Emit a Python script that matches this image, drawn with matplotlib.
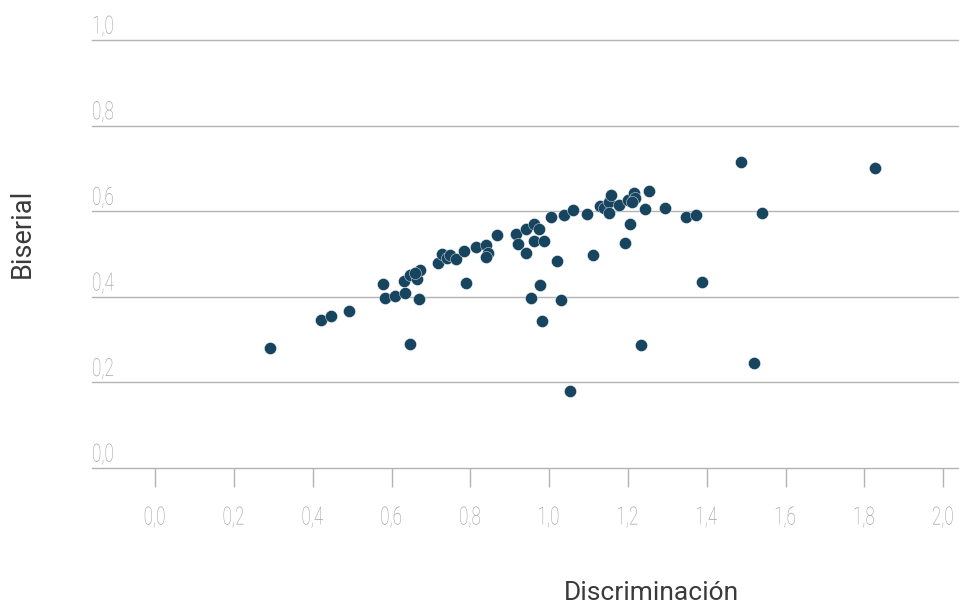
import matplotlib.pyplot as plt
from matplotlib.transforms import offset_copy, Affine2D
from matplotlib.patheffects import AbstractPathEffect

# Discriminación (x) vs Biserial (y), one point per item
discriminacion = [0.292, 0.421, 0.446, 0.491, 0.579, 0.584, 0.608, 0.635, 0.631, 0.647,
                  0.664, 0.673, 0.660, 0.669, 0.648, 0.719, 0.728, 0.740, 0.749, 0.764,
                  0.783, 0.789, 0.814, 0.839, 0.845, 0.839, 0.867, 0.916, 0.920, 0.942,
                  0.941, 0.962, 0.974, 0.962, 0.987, 1.020, 0.977, 0.954, 1.031, 0.983,
                  1.052, 1.004, 1.038, 1.060, 1.095, 1.112, 1.129, 1.140, 1.151, 1.157,
                  1.151, 1.178, 1.192, 1.206, 1.201, 1.216, 1.218, 1.211, 1.243, 1.254,
                  1.295, 1.346, 1.372, 1.387, 1.234, 1.487, 1.826, 1.541, 1.519]
biserial = [0.280, 0.346, 0.356, 0.367, 0.430, 0.397, 0.403, 0.410, 0.438, 0.451,
            0.441, 0.463, 0.456, 0.394, 0.290, 0.478, 0.499, 0.490, 0.498, 0.488,
            0.508, 0.432, 0.516, 0.522, 0.502, 0.494, 0.544, 0.546, 0.523, 0.558,
            0.502, 0.569, 0.559, 0.530, 0.530, 0.483, 0.428, 0.398, 0.393, 0.344,
            0.181, 0.586, 0.591, 0.603, 0.594, 0.498, 0.613, 0.607, 0.622, 0.639,
            0.595, 0.614, 0.525, 0.570, 0.626, 0.643, 0.631, 0.621, 0.604, 0.648,
            0.607, 0.586, 0.591, 0.434, 0.287, 0.716, 0.701, 0.595, 0.245]

x_ticks = [0.0, 0.2, 0.4, 0.6, 0.8, 1.0, 1.2, 1.4, 1.6, 1.8, 2.0]
y_ticks = [0.0, 0.2, 0.4, 0.6, 0.8, 1.0]


# no condensed font installed, so squeeze the glyph outlines horizontally
class Condensed(AbstractPathEffect):
    def __init__(self, k=0.7, align=0.0):
        super().__init__()
        self.k = k
        self.align = align

    def draw_path(self, renderer, gc, tpath, affine, rgbFace=None):
        w = tpath.get_extents().width
        pre = Affine2D().scale(self.k, 1).translate((1 - self.k) * w * self.align, 0)
        renderer.draw_path(gc, tpath, pre + affine, rgbFace)


tick_font = dict(family='Roboto', weight='light')
tick_color = '#999999'

fig = plt.figure(figsize=(9.59, 6.05), dpi=100)
ax = fig.add_axes([92 / 959, 137 / 605, 867 / 959, 428 / 605])

ax.scatter(discriminacion, biserial, s=76, color='#17445f', edgecolor='white',
           linewidth=0.3, zorder=3, clip_on=False)

ax.set_xlim(-0.16, 2.04)
ax.set_ylim(0, 1.0)
for s in ax.spines.values():
    s.set_visible(False)

# horizontal gridlines incl. the baseline
for y in y_ticks:
    ax.axhline(y, color='#b3b3b3', linewidth=1, zorder=1, clip_on=False)

ax.set_xticks(x_ticks)
ax.set_xticklabels([f'{v:.1f}'.replace('.', ',') for v in x_ticks], color=tick_color,
                   fontsize=18, **tick_font)
ax.tick_params(axis='x', direction='out', length=14, width=1, color='#b3b3b3', pad=13)
for lbl in ax.get_xticklabels():
    lbl.set_path_effects([Condensed(0.68, 0.5)])

ax.set_yticks(y_ticks)
ax.set_yticklabels([f'{v:.1f}'.replace('.', ',') for v in y_ticks], color=tick_color,
                   fontsize=18, **tick_font)
ax.tick_params(axis='y', length=0, pad=0)
for lbl in ax.get_yticklabels():
    lbl.set_horizontalalignment('left')
    lbl.set_verticalalignment('bottom')
    lbl.set_transform(offset_copy(lbl.get_transform(), fig=fig, x=0, y=1, units='points'))
    lbl.set_path_effects([Condensed(0.68, 0.0)])

fig.text(22 / 959, 1 - 233 / 605, 'Biserial', rotation=90, ha='center', va='center',
         fontsize=19.5, family='Roboto', color='#3a3a3a')
fig.text(651 / 959, 1 - 593 / 605, 'Discriminación', ha='center', va='center',
         fontsize=19, family='Roboto', color='#3a3a3a')

fig.savefig('out.png', dpi=100)
